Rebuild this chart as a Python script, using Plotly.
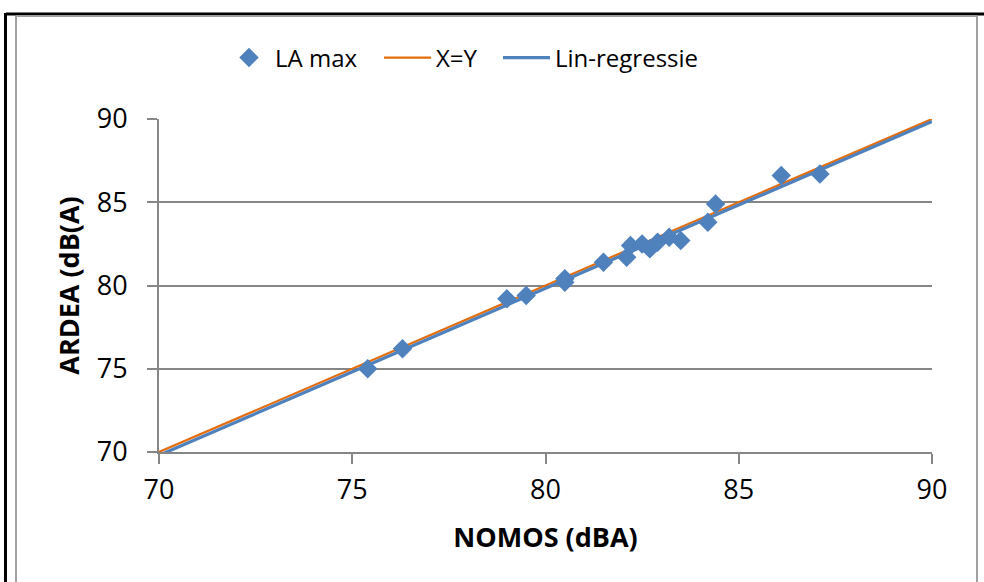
import plotly.graph_objects as go

# ---- data ----
nomos = [75.4, 76.3, 79.0, 79.5, 80.5, 80.5, 81.5, 82.1, 82.2, 82.5, 82.7, 82.9, 83.2, 83.5, 84.2, 84.4, 86.1, 87.1]
ardea = [75.0, 76.2, 79.2, 79.4, 80.4, 80.2, 81.4, 81.7, 82.4, 82.5, 82.2, 82.6, 82.9, 82.7, 83.8, 84.9, 86.6, 86.7]

xy_x = [70, 90]
xy_y = [70, 90]

reg_x = [70, 90]
reg_y = [69.8, 89.85]

x_ticks = [70, 75, 80, 85, 90]
y_ticks = [70, 75, 80, 85, 90]

BLUE = "#4F81BD"
ORANGE = "#E46C0A"
GRID = "#868686"
FONT = "Open Sans"

W, H = 984, 582
L, R, T, B = 159, 932, 119, 452


def px(x):
    return (x - L) / (R - L)


def py(y):
    return (B - y) / (B - T)


fig = go.Figure()
fig.add_trace(go.Scatter(x=xy_x, y=xy_y, mode="lines", name="X=Y",
                         line=dict(color=ORANGE, width=2.2), legend="legend2"))
fig.add_trace(go.Scatter(x=reg_x, y=reg_y, mode="lines", name="Lin-regressie",
                         line=dict(color=BLUE, width=3.2), legend="legend3"))
fig.add_trace(go.Scatter(x=nomos, y=ardea, mode="markers", name="LA max",
                         marker=dict(symbol="diamond", size=15, color=BLUE,
                                     line=dict(width=0)), legend="legend"))

shapes = [
    # outer black frame (top + left)
    dict(type="line", xref="paper", yref="paper", x0=px(6), x1=px(990), y0=py(14), y1=py(14),
         line=dict(color="black", width=3)),
    dict(type="line", xref="paper", yref="paper", x0=px(5.5), x1=px(5.5), y0=py(13), y1=py(590),
         line=dict(color="black", width=3)),
    # inner grey frame
    dict(type="line", xref="paper", yref="paper", x0=px(16), x1=px(977), y0=py(16), y1=py(16),
         line=dict(color="#A0A0A0", width=2)),
    dict(type="line", xref="paper", yref="paper", x0=px(16), x1=px(16), y0=py(16), y1=py(590),
         line=dict(color="#A0A0A0", width=2)),
    dict(type="line", xref="paper", yref="paper", x0=px(977), x1=px(977), y0=py(16), y1=py(590),
         line=dict(color="#A0A0A0", width=2)),
]

LEG_FONT = dict(family=FONT, size=24, color="black")


def leg(xpix, iw):
    return dict(orientation="h", x=px(xpix), xanchor="left", y=py(58), yanchor="middle",
                font=LEG_FONT, bgcolor="rgba(0,0,0,0)", itemwidth=iw,
                borderwidth=0)


fig.update_layout(
    width=W, height=H,
    margin=dict(l=L, r=W - R, t=T, b=H - B),
    paper_bgcolor="white", plot_bgcolor="white",
    font=dict(family=FONT, size=27, color="black"),
    showlegend=True,
    legend=leg(229 - 6, 42),
    legend2=leg(380 - 1, 47),
    legend3=leg(500 - 2, 47),
    xaxis=dict(range=[70, 90], tickvals=x_ticks, ticks="outside", ticklen=10, tickwidth=2,
               tickcolor=GRID, showline=True, linecolor=GRID, linewidth=2, showgrid=False,
               zeroline=False, tickfont=dict(family=FONT, size=27), ticklabelstandoff=3,
               title=dict(text="<b>NOMOS (dBA)</b>", font=dict(family=FONT, size=27), standoff=22)),
    yaxis=dict(range=[70, 90], tickvals=y_ticks, ticks="outside", ticklen=10, tickwidth=2,
               tickcolor=GRID, showline=True, linecolor=GRID, linewidth=2, showgrid=True,
               gridcolor=GRID, gridwidth=2, zeroline=False,
               tickfont=dict(family=FONT, size=27), ticklabelstandoff=14,
               title=dict(text="<b>ARDEA (dB(A)</b>", font=dict(family=FONT, size=27), standoff=9)),
    shapes=shapes,
)

fig.write_html("out.html")
